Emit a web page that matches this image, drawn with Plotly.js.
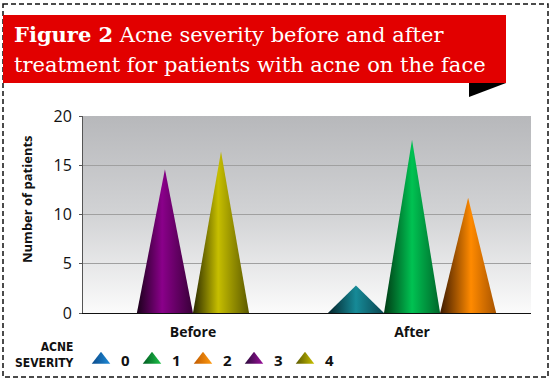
<!DOCTYPE html>
<html><head><meta charset="utf-8">
<script src="https://cdn.plot.ly/plotly-3.0.1.min.js"></script>
<style>html,body{margin:0;padding:0;background:#fff;}#chart{width:556px;height:382px;}</style>
</head><body><div id="chart"></div>
<script>
// ---- data ----
const categories = ['Before', 'After'];
const severityLevels = ['0', '1', '2', '3', '4'];
const beforeValues = [0, 0, 0, 14.6, 16.4];
const afterValues = [2.8, 17.6, 11.7, 0, 0];
const yTickValues = [0, 5, 10, 15, 20];
const titleBold = 'Figure 2';
const titleRest = 'Acne severity before and after';
const titleLine2 = 'treatment for patients with acne on the face';
const yAxisTitle = 'Number of patients';
const legendTitle = ['ACNE', 'SEVERITY'];

// ---- styles ----
const coneScales = [
  [[0, '#04232a'], [0.5, '#168a97'], [1, '#0a4550']],
  [[0, '#003a14'], [0.5, '#00c252'], [1, '#00662a']],
  [[0, '#3e1a00'], [0.55, '#ff8a00'], [1, '#a85400']],
  [[0, '#1a001a'], [0.45, '#8a008a'], [1, '#380038']],
  [[0, '#2a2a00'], [0.45, '#c6be00'], [1, '#5c5a00']]
];
const legendColors = [
  ['#0a4a8a', '#1f8ad6'],
  ['#005a20', '#1ec24a'],
  ['#c05a00', '#ff9a10'],
  ['#2a0a3a', '#9a109a'],
  ['#5a5800', '#c8c000']
];

const W = 556, H = 382;
const L = 83, R = 531, T = 116, B = 313;
const px = x => (x - L) / (R - L);
const py = y => (B - y) / (B - T);

const coneWidth = 0.256;
const seriesByCat = [beforeValues, afterValues];
const traces = [];

// legend-only traces
severityLevels.forEach((s, i) => {
  traces.push({
    type: 'scatter', mode: 'markers', x: [null], y: [null], name: s,
    showlegend: true, hoverinfo: 'skip',
    marker: {symbol: 'triangle-up', size: 16, color: legendColors[i][0],
      gradient: {type: 'horizontal', color: legendColors[i][1]}, line: {width: 0}}
  });
});

// cones
categories.forEach((c, ci) => {
  const vals = seriesByCat[ci];
  const present = [];
  vals.forEach((v, si) => { if (v > 0) present.push(si); });
  const n = present.length;
  present.forEach((si, k) => {
    const center = ci + (k - (n - 1) / 2) * coneWidth;
    traces.push({
      type: 'scatter', mode: 'lines', showlegend: false, hoverinfo: 'skip',
      x: [center - coneWidth / 2, center, center + coneWidth / 2, center - coneWidth / 2],
      y: [0, vals[si], 0, 0],
      line: {width: 0}, fill: 'toself',
      fillgradient: {type: 'horizontal', colorscale: coneScales[si]}
    });
  });
});

const bgSvg = '<svg xmlns="http://www.w3.org/2000/svg" width="100" height="100" preserveAspectRatio="none">' +
  '<defs><linearGradient id="g" x1="0" y1="0" x2="0" y2="1">' +
  '<stop offset="0" stop-color="#b7b8bb"/><stop offset="0.5" stop-color="#d2d3d5"/><stop offset="1" stop-color="#fbfbfb"/>' +
  '</linearGradient></defs><rect width="100" height="100" fill="url(#g)"/></svg>';
const bgSrc = 'data:image/svg+xml;base64,' + btoa(bgSvg);

const tickFont = {family: 'Open Sans, sans-serif', size: 16, color: '#111'};
const condFont = 'DejaVu Sans Condensed, Liberation Sans Narrow, sans-serif';

const layout = {
  width: W, height: H,
  margin: {l: L, r: W - R, t: T, b: H - B, pad: 0, autoexpand: false},
  paper_bgcolor: '#ffffff', plot_bgcolor: 'rgba(0,0,0,0)',
  showlegend: true,
  legend: {orientation: 'h', x: px(81), y: py(360), xanchor: 'left', yanchor: 'middle',
    font: {family: 'Open Sans, sans-serif', size: 15, color: '#111', weight: 'bold'},
    entrywidth: 6, itemwidth: 30, bgcolor: 'rgba(0,0,0,0)', traceorder: 'normal'},
  xaxis: {range: [-0.502, 1.543], tickvals: [0, 1], ticktext: categories,
    showgrid: false, zeroline: false, showline: true, linecolor: '#111', linewidth: 1,
    ticks: '', ticklabelstandoff: 6,
    tickfont: {family: 'Open Sans, sans-serif', size: 14, color: '#111', weight: 'bold'},
    fixedrange: true},
  yaxis: {range: [0, 20], tickvals: yTickValues, showgrid: true, gridcolor: '#a0a0a0', gridwidth: 1,
    zeroline: false, showline: true, linecolor: '#555', linewidth: 1, ticklabelstandoff: 4,
    ticks: 'outside', ticklen: 3, tickcolor: '#555', tickfont: tickFont, fixedrange: true},
  images: [{source: bgSrc, xref: 'paper', yref: 'paper', x: 0, y: 1, sizex: 1, sizey: 1,
    sizing: 'stretch', xanchor: 'left', yanchor: 'top', layer: 'below'}],
  shapes: [
    {type: 'rect', xref: 'paper', yref: 'paper', x0: px(3), x1: px(548), y0: py(4), y1: py(377),
      line: {color: '#111', width: 1.5, dash: '5px,3px'}, fillcolor: 'rgba(0,0,0,0)'},
    {type: 'rect', xref: 'paper', yref: 'paper', x0: px(3), x1: px(506), y0: py(15), y1: py(83),
      line: {width: 0}, fillcolor: '#e20000'},
    {type: 'path', xref: 'paper', yref: 'paper',
      path: 'M' + px(469) + ',' + py(83) + ' L' + px(506) + ',' + py(83) + ' L' + px(469) + ',' + py(97) + ' Z',
      line: {width: 0}, fillcolor: '#000'}
  ],
  annotations: [
    {xref: 'paper', yref: 'paper', x: px(12), y: py(34), xanchor: 'left', yanchor: 'middle', showarrow: false,
      text: '<b>' + titleBold + '</b> ' + titleRest,
      font: {family: 'DejaVu Serif, serif', size: 21, color: '#fff'}},
    {xref: 'paper', yref: 'paper', x: px(12), y: py(65), xanchor: 'left', yanchor: 'middle', showarrow: false,
      text: titleLine2,
      font: {family: 'DejaVu Serif, serif', size: 21, color: '#fff'}},
    {xref: 'paper', yref: 'paper', x: px(27), y: py(199), xanchor: 'center', yanchor: 'middle', showarrow: false,
      textangle: -90, text: '<b>' + yAxisTitle + '</b>',
      font: {family: 'Open Sans, sans-serif', size: 13, color: '#111'}},
    {xref: 'paper', yref: 'paper', x: px(75), y: py(355), xanchor: 'right', yanchor: 'middle', showarrow: false,
      align: 'right', borderpad: 0,
      text: '<b>' + legendTitle[0] + '</b><br><b>' + legendTitle[1] + '</b>',
      font: {family: condFont, size: 12, color: '#111'}}
  ]
};

Plotly.newPlot('chart', traces, layout, {displayModeBar: false, staticPlot: true});
</script></body></html>
